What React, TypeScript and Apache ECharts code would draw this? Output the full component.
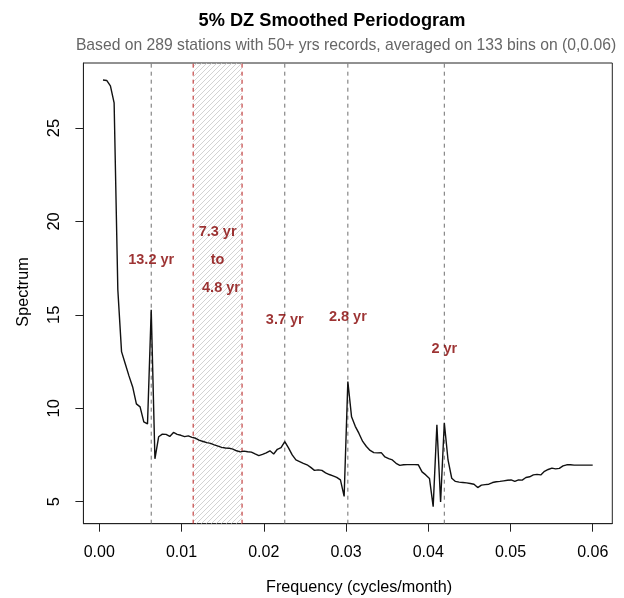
import React, { useEffect, useRef } from "react";
import * as echarts from "echarts";

// 133 frequency bins on (0, 0.06]
const binCount = 133;
const freqMax = 0.06;

// smoothed periodogram values, one per bin
const spectrum = [
  27.57, 27.55, 27.26, 26.35, 16.34, 13.03, 12.38, 11.73, 11.14, 10.23,
  10.07, 9.27, 9.16, 15.27, 7.29, 8.47, 8.61, 8.6, 8.49, 8.7,
  8.6, 8.55, 8.48, 8.52, 8.44, 8.39, 8.28, 8.22, 8.16, 8.12,
  8.04, 7.97, 7.9, 7.87, 7.86, 7.81, 7.72, 7.66, 7.7, 7.67,
  7.65, 7.55, 7.46, 7.53, 7.61, 7.72, 7.55, 7.8, 7.89, 8.21,
  7.88, 7.5, 7.23, 7.14, 7.05, 6.97, 6.83, 6.67, 6.7, 6.67,
  6.54, 6.45, 6.38, 6.3, 6.16, 5.28, 11.43, 9.54, 9.03, 8.65,
  8.22, 7.95, 7.74, 7.62, 7.61, 7.62, 7.39, 7.3, 7.23, 7.05,
  6.94, 6.97, 6.98, 6.98, 6.98, 6.97, 6.59, 6.43, 6.24, 4.73,
  9.11, 4.98, 9.22, 7.23, 6.25, 6.08, 6.04, 6.02, 6.0, 5.97,
  5.93, 5.75, 5.88, 5.91, 5.93, 6.02, 6.06, 6.08, 6.11, 6.14,
  6.16, 6.08, 6.16, 6.15, 6.29, 6.33, 6.43, 6.46, 6.43, 6.62,
  6.72, 6.79, 6.75, 6.78, 6.91, 6.97, 6.97, 6.95, 6.95, 6.95,
  6.95, 6.95, 6.95,
];

// peak frequencies marked with grey dashed lines (13.2, 3.7, 2.8, 2 yr)
const peakFreqs = [0.006316, 0.022556, 0.030226, 0.041955];
// band marked with red dashed lines (7.3 yr to 4.8 yr)
const bandFreqs = [1 / (7.3 * 12), 1 / (4.8 * 12)];

// annotations: [freq, spectrum, text]
const annotations: [number, number, string][] = [
  [0.006316, 18.0, "13.2 yr"],
  [0.01439, 19.5, "7.3 yr"],
  [0.01439, 18.0, "to"],
  [0.0148, 16.5, "4.8 yr"],
  [0.022556, 14.8, "3.7 yr"],
  [0.030226, 14.95, "2.8 yr"],
  [0.041955, 13.25, "2 yr"],
];

const xTicks = [0, 0.01, 0.02, 0.03, 0.04, 0.05, 0.06];
const yTicks = [5, 10, 15, 20, 25];

const titleText = "5% DZ Smoothed Periodogram";
const subtitleText =
  "Based on 289 stations with 50+ yrs records, averaged on 133 bins on (0,0.06)";
const xTitle = "Frequency (cycles/month)";
const yTitle = "Spectrum";

const FONT = "'Liberation Sans', Arial, Helvetica, sans-serif";

export default function App() {
  const ref = useRef<HTMLDivElement>(null);

  useEffect(() => {
    if (!ref.current) return;
    const chart = echarts.init(ref.current, undefined, { renderer: "svg" });

    const freqs = spectrum.map((_, i) => ((i + 1) * freqMax) / binCount);
    const lineData = spectrum.map((v, i) => [freqs[i], v]);
    const fMin = freqs[0];
    const fMax = freqs[freqs.length - 1];
    const vMin = Math.min(...spectrum);
    const vMax = Math.max(...spectrum);
    const xPad = (fMax - fMin) * 0.04;
    const yPad = (vMax - vMin) * 0.04;
    const yLo = vMin - yPad;
    const yHi = vMax + yPad;

    // hatch pattern
    const cv = document.createElement("canvas");
    const s = 5;
    cv.width = s;
    cv.height = s;
    const ctx = cv.getContext("2d");
    if (ctx) {
      ctx.strokeStyle = "#c8c8c8";
      ctx.lineWidth = 0.8;
      ctx.beginPath();
      ctx.moveTo(0, s);
      ctx.lineTo(s, 0);
      ctx.moveTo(-1, 1);
      ctx.lineTo(1, -1);
      ctx.moveTo(s - 1, s + 1);
      ctx.lineTo(s + 1, s - 1);
      ctx.stroke();
    }

    const vline = (f: number, color: string) => ({
      type: "line",
      data: [
        [f, yLo],
        [f, yHi],
      ],
      showSymbol: false,
      symbol: "none",
      silent: true,
      z: 3,
      itemStyle: { color },
      lineStyle: { color, width: 1, type: [4, 4] },
    });

    chart.setOption({
      animation: false,
      textStyle: { fontFamily: FONT },
      title: [
        {
          text: titleText,
          left: 327,
          top: 6,
          textAlign: "center",
          textStyle: {
            fontFamily: FONT,
            fontSize: 18.2,
            fontWeight: "bold",
            color: "#000",
          },
        },
        {
          text: subtitleText,
          left: 341,
          top: 31,
          textAlign: "center",
          textStyle: {
            fontFamily: FONT,
            fontSize: 15.7,
            fontWeight: "normal",
            color: "#666",
          },
        },
      ],
      graphic: [
        {
          type: "text",
          left: 266,
          top: 578,
          style: {
            text: xTitle,
            fontFamily: FONT,
            fontSize: 16.2,
            fill: "#000",
          },
        },
        {
          type: "text",
          x: 22,
          y: 292,
          rotation: Math.PI / 2,
          style: {
            text: yTitle,
            fontFamily: FONT,
            fontSize: 16.2,
            fill: "#000",
            align: "center",
            verticalAlign: "middle",
          },
        },
      ],
      grid: {
        left: 83.4,
        right: 11.7,
        top: 63,
        bottom: 74.3,
        show: true,
        borderColor: "#222",
        borderWidth: 1,
        backgroundColor: "transparent",
      },
      xAxis: {
        type: "value",
        min: fMin - xPad,
        max: fMax + xPad,
        splitLine: { show: false },
        axisLine: {
          show: true,
          onZero: false,
          lineStyle: { color: "#222", width: 1 },
        },
        axisTick: {
          show: true,
          length: 8,
          inside: false,
          customValues: xTicks,
          lineStyle: { color: "#222", width: 1 },
        },
        axisLabel: {
          show: true,
          customValues: xTicks,
          margin: 20,
          fontFamily: FONT,
          fontSize: 16,
          color: "#000",
          formatter: (v: number) => v.toFixed(2),
        },
      },
      yAxis: {
        type: "value",
        min: yLo,
        max: yHi,
        splitLine: { show: false },
        axisLine: {
          show: true,
          onZero: false,
          lineStyle: { color: "#222", width: 1 },
        },
        axisTick: {
          show: true,
          length: 8,
          inside: false,
          customValues: yTicks,
          lineStyle: { color: "#222", width: 1 },
        },
        axisLabel: {
          show: true,
          customValues: yTicks,
          rotate: 90,
          margin: 22,
          fontFamily: FONT,
          fontSize: 16.5,
          color: "#000",
        },
      },
      series: [
        {
          type: "line",
          data: lineData,
          showSymbol: false,
          symbol: "none",
          z: 5,
          itemStyle: { color: "#111" },
          lineStyle: { color: "#111", width: 1.4 },
          markArea: {
            silent: true,
            itemStyle: {
              color: { image: cv, repeat: "repeat" } as any,
            },
            data: [[{ xAxis: bandFreqs[0] }, { xAxis: bandFreqs[1] }]],
          },
        },
        ...peakFreqs.map((f) => vline(f, "#6e6e6e")),
        ...bandFreqs.map((f) => vline(f, "#b81c1c")),
        {
          type: "scatter",
          data: annotations.map((a) => ({ value: [a[0], a[1]], name: a[2] })),
          symbolSize: 1,
          itemStyle: { color: "transparent" },
          z: 6,
          label: {
            show: true,
            position: "inside",
            formatter: (p: any) => p.name,
            fontFamily: FONT,
            fontSize: 14.5,
            fontWeight: "bold",
            color: "#840000",
          },
        },
      ],
    });

    return () => chart.dispose();
  }, []);

  return (
    <div
      ref={ref}
      style={{ position: "fixed", left: 0, top: 0, width: 624, height: 598 }}
    />
  );
}
